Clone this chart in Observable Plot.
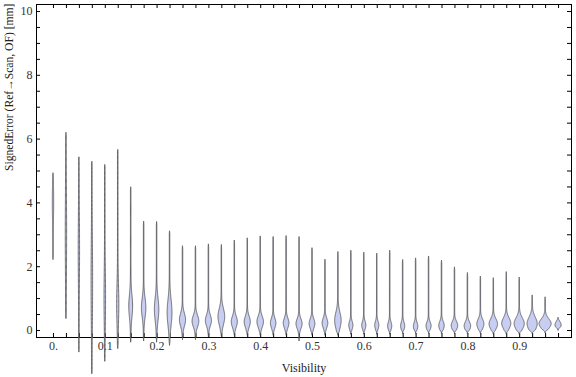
<!DOCTYPE html>
<html>
<head>
<meta charset="utf-8">
<script src="https://cdn.jsdelivr.net/npm/d3@7"></script>
<script src="https://cdn.jsdelivr.net/npm/@observablehq/plot@0.6"></script>
<style>
  html, body { margin: 0; padding: 0; background: white; }
  svg text { font-family: "Liberation Serif", "Times New Roman", Times, serif; }
</style>
</head>
<body>
<div id="chart"></div>
<script>
// Violin positions (Visibility)
const positions = [0, 0.025, 0.05, 0.075, 0.1, 0.125, 0.15, 0.175, 0.2, 0.225,
  0.25, 0.275, 0.3, 0.325, 0.35, 0.375, 0.4, 0.425, 0.45, 0.475,
  0.5, 0.525, 0.55, 0.575, 0.6, 0.625, 0.65, 0.675, 0.7, 0.725,
  0.75, 0.775, 0.8, 0.825, 0.85, 0.875, 0.9, 0.925, 0.95, 0.975];
// Minimum of each distribution (mm)
const mins = [2.22, 0.37, -0.68, -1.36, -0.97, -0.57, -0.37, -0.33, -0.37, -0.47,
  -0.29, -0.29, -0.2, -0.18, -0.15, -0.15, -0.15, -0.15, -0.15, -0.33,
  -0.15, -0.15, -0.15, -0.12, -0.12, -0.12, -0.12, -0.1, -0.1, -0.1,
  -0.1, -0.1, -0.1, -0.1, -0.12, -0.12, -0.12, -0.1, -0.08, 0.0];
// Maximum of each distribution (mm)
const maxs = [4.93, 6.2, 5.43, 5.29, 5.19, 5.66, 4.49, 3.41, 3.4, 3.11,
  2.64, 2.64, 2.7, 2.68, 2.82, 2.89, 2.95, 2.93, 2.96, 2.93,
  2.58, 2.22, 2.46, 2.5, 2.44, 2.41, 2.5, 2.21, 2.26, 2.32,
  2.19, 1.98, 1.8, 1.69, 1.64, 1.83, 1.66, 1.1, 1.04, 0.4];
// Mode (location of the widest part) of each distribution (mm)
const modes = [4.0, 3.0, 2.5, 1.5, 1.0, 0.8, 0.75, 0.7, 0.65, 0.55,
  0.32, 0.28, 0.3, 0.42, 0.26, 0.26, 0.26, 0.22, 0.22, 0.2,
  0.2, 0.22, 0.3, 0.15, 0.15, 0.15, 0.13, 0.13, 0.12, 0.13,
  0.14, 0.14, 0.13, 0.19, 0.19, 0.21, 0.2, 0.2, 0.2, 0.16];
// Peak density half-width (in Visibility units)
const peaks = [0.0008, 0.0008, 0.0008, 0.0010, 0.0010, 0.0016, 0.0032, 0.0038, 0.0038, 0.0042,
  0.0054, 0.0060, 0.0054, 0.0060, 0.0054, 0.0054, 0.0058, 0.0048, 0.0050, 0.0054,
  0.0050, 0.0050, 0.0058, 0.0035, 0.0035, 0.0035, 0.0035, 0.0035, 0.0038, 0.0044,
  0.0048, 0.0058, 0.0058, 0.0064, 0.0077, 0.0083, 0.0093, 0.0093, 0.0112, 0.0054];
// Spread of the main bulge (mm)
const spreads = [0.5, 1.2, 1.0, 1.2, 0.8, 0.6, 0.35, 0.3, 0.35, 0.4,
  0.2, 0.18, 0.17, 0.25, 0.17, 0.17, 0.17, 0.15, 0.15, 0.15,
  0.15, 0.15, 0.25, 0.12, 0.12, 0.12, 0.12, 0.12, 0.12, 0.12,
  0.13, 0.13, 0.13, 0.15, 0.16, 0.17, 0.18, 0.2, 0.15, 0.1];
const tailWidth = 0.0005;

// Ticks and labels
const xTickValues = positions;
const xLabelValues = [0, 0.1, 0.2, 0.3, 0.4, 0.5, 0.6, 0.7, 0.8, 0.9];
const xTickLabels = ["0.", "0.1", "0.2", "0.3", "0.4", "0.5", "0.6", "0.7", "0.8", "0.9"];
const yTickValues = [0, 0.5, 1, 1.5, 2, 2.5, 3, 3.5, 4, 4.5, 5, 5.5, 6, 6.5, 7, 7.5, 8, 8.5, 9, 9.5, 10];
const yLabelValues = [0, 2, 4, 6, 8, 10];
const yTickLabels = ["0", "2", "4", "6", "8", "10"];
const xTitle = "Visibility";
const yTitle = "SignedError (Ref\u2192Scan, OF) [mm]";

// Build violin outlines
const rows = [];
positions.forEach((x, k) => {
  const lo = mins[k], hi = maxs[k];
  const n = 160;
  for (let j = 0; j <= n; j++) {
    const v = lo + (hi - lo) * j / n;
    const g = Math.exp(-0.5 * ((v - modes[k]) / spreads[k]) ** 2);
    const t = Math.max(0, Math.min(1, (v - lo) / 0.1, (hi - v) / 0.1));
    const hw = (peaks[k] * g + tailWidth) * t;
    rows.push({k, v, x1: x - hw, x2: x + hw});
  }
});

const W = 576, H = 377, mL = 36, mR = 5, mT = 4, mB = 40;
const fw = W - mL - mR, fh = H - mT - mB;
const tickLen = 4;

const chart = Plot.plot({
  width: W, height: H,
  marginLeft: mL, marginRight: mR, marginTop: mT, marginBottom: mB,
  style: {fontFamily: "'Liberation Serif', 'Times New Roman', serif", fontSize: "12px", background: "white"},
  x: {domain: [-0.0328, 1.0]},
  y: {domain: [-0.22, 10.22]},
  marks: [
    Plot.frame({stroke: "black", strokeWidth: 1}),
    Plot.ruleX(xTickValues, {x: d => d, insetTop: fh - tickLen, stroke: "black"}),
    Plot.ruleX(xTickValues, {x: d => d, insetBottom: fh - tickLen, stroke: "black"}),
    Plot.ruleY(yTickValues, {y: d => d, insetRight: fw - tickLen, stroke: "black"}),
    Plot.ruleY(yTickValues, {y: d => d, insetLeft: fw - tickLen, stroke: "black"}),
    Plot.axisX({anchor: "bottom", ticks: xLabelValues, tickSize: 0, tickPadding: 4,
      tickFormat: d => xTickLabels[xLabelValues.indexOf(d)],
      fontSize: 12, fill: "#333", label: null}),
    Plot.axisY({anchor: "left", ticks: yLabelValues, tickSize: 0, tickPadding: 4,
      tickFormat: d => yTickLabels[yLabelValues.indexOf(d)],
      fontSize: 12, fill: "#333", label: null}),
    Plot.areaX(rows, {y: "v", x1: "x1", x2: "x2", z: "k", fill: "#c8cdf2",
      stroke: "#4a4a4a", strokeWidth: 0.9, strokeOpacity: 0.85, curve: "linear"}),
    Plot.text([xTitle], {frameAnchor: "bottom", dy: 34, fontSize: 12, fill: "#222"}),
    Plot.text([yTitle], {frameAnchor: "left", dx: -27, rotate: -90, fontSize: 11.6, fill: "#222"})
  ]
});
document.getElementById("chart").appendChild(chart);
</script>
</body>
</html>
